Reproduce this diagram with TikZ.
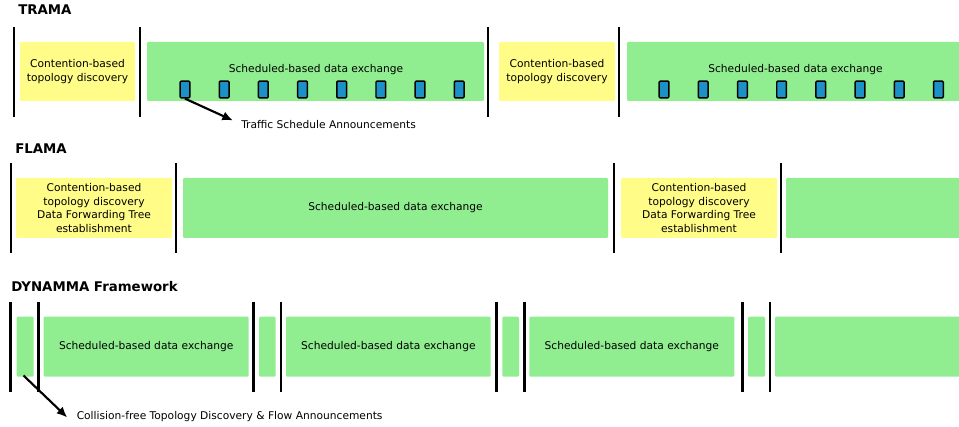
\documentclass[tikz,border=0pt]{standalone}
\usepackage{fontspec}
\setmainfont{DejaVu Sans}
\usetikzlibrary{arrows.meta}
\definecolor{gbox}{RGB}{144,238,144}
\definecolor{ybox}{RGB}{255,252,136}
\definecolor{sqblue}{RGB}{30,144,200}
\tikzset{
  base/.style={inner sep=0pt, outer sep=0pt, rounded corners=0.8pt, align=center,
    font=\fontsize{8}{10.4}\selectfont, text=black},
  yel/.style={base, fill=ybox},
  grn/.style={base, fill=gbox},
  sq/.style={draw=black, line width=1.1pt, fill=sqblue, rounded corners=0.8pt,
    minimum width=7.3pt, minimum height=12.6pt, inner sep=0pt},
  bar/.style={line width=1.9pt, black},
  title/.style={font=\fontsize{10}{12}\selectfont\bfseries, anchor=west, inner sep=0pt},
  lbl/.style={font=\fontsize{8}{10}\selectfont, anchor=west, inner sep=0pt, text=black},
  arr/.style={line width=1.6pt, -{Latex[length=8pt,width=7pt]}}
}
% \bx{name}{x1}{y1}{x2}{y2}{style}{text}
\newcommand\bx[7]{\node[#6, minimum width={(#4-#2)*0.75pt}, minimum height={(#5-#3)*0.75pt}]
  (#1) at ({(#2+#4)/2},{(#3+#5)/2}) {#7};}
\begin{document}
\begin{tikzpicture}[x=0.75pt,y=-0.75pt]
\useasboundingbox (0,0) rectangle (959,427);
\begin{scope}
\clip (0,0) rectangle (959,427);
% ---------------- TRAMA ----------------
\node[title] (tTrama) at (18,10) {TRAMA};
\bx{t1}{20}{42}{135}{101}{yel}{Contention-based\\topology discovery}
\bx{t2}{147}{42}{484}{101}{grn}{}
\bx{t3}{499}{42}{615}{101}{yel}{Contention-based\\topology discovery}
\bx{t4}{627}{42}{964}{101}{grn}{}
\node[base] (t2txt) at (316,70) {Scheduled-based data exchange};
\node[base] (t4txt) at (795.5,70) {Scheduled-based data exchange};
\foreach \i in {0,...,7} {
  \node[sq] (sa\i) at ({185+39.17*\i},89.5) {};
  \node[sq] (sb\i) at ({664+39.2*\i},89.5) {};
}
\foreach \x in {14,140,488,619} \draw[bar] (\x,27) -- (\x,117);
\node[lbl] (tsa) at (241,124.5) {Traffic Schedule Announcements};
\coordinate (tip1) at (233,120.5);
\draw[arr] (sa0.south) -- (tip1);
% ---------------- FLAMA ----------------
\node[title] (tFlama) at (15,148.5) {FLAMA};
\bx{f1}{16}{178}{172}{238}{yel}{Contention-based\\topology discovery\\Data Forwarding Tree\\establishment}
\bx{f2}{183}{178}{608}{238}{grn}{Scheduled-based data exchange}
\bx{f3}{621}{178}{777}{238}{yel}{Contention-based\\topology discovery\\Data Forwarding Tree\\establishment}
\bx{f4}{786}{178}{964}{238}{grn}{}
\foreach \x in {11,176,614,781} \draw[bar] (\x,163) -- (\x,253);
% ---------------- DYNAMMA ----------------
\node[title] (tDyn) at (11,286.5) {DYNAMMA Framework};
\bx{d1}{16.7}{316.7}{33.7}{376.7}{grn}{}
\bx{d2}{43.7}{316.7}{248.7}{376.7}{grn}{Scheduled-based data exchange}
\bx{d3}{259}{316.7}{275.7}{376.7}{grn}{}
\bx{d4}{286}{316.7}{490.7}{376.7}{grn}{Scheduled-based data exchange}
\bx{d5}{502.3}{316.7}{519}{376.7}{grn}{}
\bx{d6}{529.3}{316.7}{734.3}{376.7}{grn}{Scheduled-based data exchange}
\bx{d7}{748}{316.7}{765}{376.7}{grn}{}
\bx{d8}{775}{316.7}{964}{376.7}{grn}{}
\foreach \x in {10.7,38.7,253.3,281,496.7,524.3,742.3,770} \draw[bar] (\x,302) -- (\x,391.7);
\node[lbl] (cfa) at (76.5,417) {Collision-free Topology Discovery \& Flow Announcements};
\coordinate (tip2) at (67.3,417.5);
\coordinate (st2) at (23.5,375.5);
\draw[arr] (st2) -- (tip2);
\end{scope}
\end{tikzpicture}
\end{document}
